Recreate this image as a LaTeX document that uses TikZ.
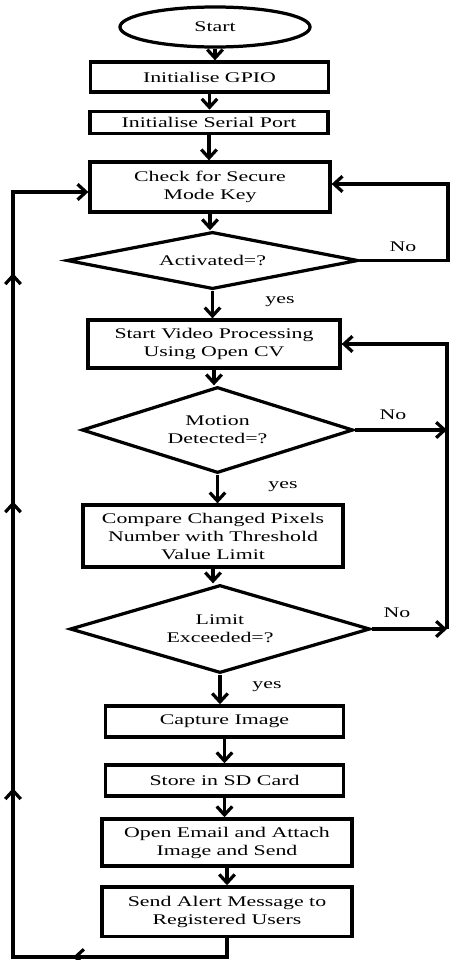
\documentclass[tikz,border=0pt]{standalone}
\usepackage{fontspec}
\setmainfont[FakeStretch=1.48]{Liberation Serif}
\usetikzlibrary{shapes.geometric,arrows.meta,decorations.markings}

\begin{document}
\begin{tikzpicture}[x=0.025cm, y=-0.025cm, line width=2.3pt,
        font=\fontsize{10.5}{12.8}\selectfont,
        >={Straight Barb[length=6pt,width=11pt]},
        box/.style={draw, rectangle, align=center, inner sep=0pt},
        decision/.style={draw, diamond, align=center, inner sep=0pt},
        backloop/.style={postaction={decorate}, decoration={markings,
            mark=at position 4.33cm with {\arrow{>}},
            mark=at position 10.05cm with {\arrow{>}},
            mark=at position 17.22cm with {\arrow{>}},
            mark=at position 22.92cm with {\arrow{>}}}}]
        \useasboundingbox (0,0) rectangle (449,960);

        \node[draw, ellipse, minimum width=4.75cm, minimum height=1cm] (start) at (215,27) {Start};
        \node[box, minimum width=5.93cm, minimum height=0.75cm] (gpio) at (209.5,77) {Initialise GPIO};
        \node[box, minimum width=5.95cm, minimum height=0.56cm] (serial) at (209,122.5) {Initialise Serial Port};
        \node[box, minimum width=6cm, minimum height=1.25cm] (check) at (210,187) {Check for Secure\\Mode Key};
        \node[decision, aspect=5.1, minimum width=7.28cm, minimum height=1.43cm] (act) at (212.5,260.5) {Activated=?};
        \node[box, minimum width=6.3cm, minimum height=1.2cm] (video) at (214,344) {Start Video Processing\\Using Open CV};
        \node[decision, aspect=3.15, minimum width=6.78cm, minimum height=2.15cm] (motion) at (217.5,430) {Motion\\Detected=?};
        \node[box, minimum width=6.5cm, minimum height=1.55cm] (compare) at (213,536) {Compare Changed Pixels\\Number with Threshold\\Value Limit};
        \node[decision, aspect=3.4, minimum width=7.5cm, minimum height=2.2cm] (limit) at (220,629) {Limit\\Exceeded=?};
        \node[box, minimum width=5.93cm, minimum height=0.78cm] (capture) at (224.5,721.5) {Capture Image};
        \node[box, minimum width=5.93cm, minimum height=0.78cm] (store) at (224.5,780.5) {Store in SD Card};
        \node[box, minimum width=6.25cm, minimum height=1.18cm] (email) at (227,842.5) {Open Email and Attach\\Image and Send};
        \node[box, minimum width=6.25cm, minimum height=1.23cm] (alert) at (227,911.5) {Send Alert Message to\\Registered Users};

        \node (no1) at (403,247) {No}; \node (yes1) at (280,302) {yes};
        \node (no2) at (393,415) {No}; \node (yes2) at (283,487) {yes};
        \node (no3) at (397,613) {No}; \node (yes3) at (267,687) {yes};

        \coordinate (bl) at (13,957); \coordinate (rt) at (448,0); \coordinate (rb) at (447,0);
        \coordinate (cin) at ([yshift=-0.125cm]check.west); \coordinate (cout) at ([yshift=0.075cm]check.east);

        \foreach \a/\b in {start/gpio, gpio/serial, serial/check, check/act, act/video, video/motion, motion/compare, compare/limit, limit/capture, capture/store, store/email, email/alert}
            \draw[->] (\a.south) -- (\a.south |- \b.north);

        \draw[->] (act.east) -- (act.east -| rt) |- (cout);
        \draw[->] (motion.east) -- (motion.east -| rb);
        \draw[->] (limit.east) -- (limit.east -| rb);
        \draw[->] (limit.east -| rb) |- (video.east);
        \draw[->, backloop] (alert.south) |- (bl) |- (cin);
    \end{tikzpicture}
\end{document}
